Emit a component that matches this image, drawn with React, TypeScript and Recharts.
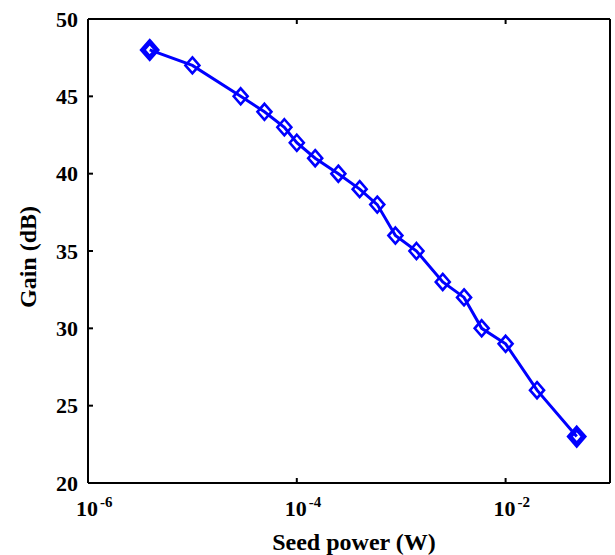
import { LineChart, Line, XAxis, YAxis, Label } from "recharts";

// values
const seedPower = [
  3.9e-6, 1e-5, 2.9e-5, 4.9e-5, 7.6e-5, 1e-4, 1.5e-4, 2.5e-4, 4e-4,
  5.9e-4, 8.8e-4, 1.4e-3, 2.5e-3, 4e-3, 5.9e-3, 1e-2, 2e-2, 4.8e-2,
];
const gainDb = [48, 47, 45, 44, 43, 42, 41, 40, 39, 38, 36, 35, 33, 32, 30, 29, 26, 23];
const powerTicks = [1e-6, 1e-4, 1e-2];
const gainTicks = [20, 25, 30, 35, 40, 45, 50];

const data = seedPower.map((p, i) => ({ power: p, gain: gainDb[i] }));

const FONT = "'Liberation Serif', 'Times New Roman', serif";
const BLUE = "#0000ff";
const axisLine = { stroke: "#000", strokeWidth: 2 };

const Diamond = (props: any) => {
  const { cx, cy, index } = props;
  if (cx == null || cy == null) return null;
  const end = index === 0 || index === data.length - 1;
  const rx = 7;
  const ry = 8;
  return (
    <path
      d={`M${cx},${cy - ry}L${cx + rx},${cy}L${cx},${cy + ry}L${cx - rx},${cy}Z`}
      fill="none"
      stroke={BLUE}
      strokeWidth={end ? 5 : 2.6}
    />
  );
};

const PowerTick = (props: any) => {
  const { x, y, payload } = props;
  const exp = Math.round(Math.log10(payload.value));
  return (
    <g>
      <line x1={x} y1={y} x2={x} y2={y - 5} stroke="#000" strokeWidth={2} />
      <text x={x - 1} y={y + 33} textAnchor="middle" fontFamily={FONT} fontWeight="bold" fontSize={22} fill="#000">
        10
      </text>
      <text x={x + 12} y={y + 24} textAnchor="start" fontFamily={FONT} fontWeight="bold" fontSize={15} fill="#000">
        {exp}
      </text>
    </g>
  );
};

const TopTick = (props: any) => {
  const { x, y } = props;
  return <line x1={x} y1={y} x2={x} y2={y + 5} stroke="#000" strokeWidth={2} />;
};

const GainTick = (props: any) => {
  const { x, y, payload } = props;
  return (
    <g>
      <line x1={x} y1={y} x2={x + 5} y2={y} stroke="#000" strokeWidth={2} />
      <text x={x - 10} y={y + 7.5} textAnchor="end" fontFamily={FONT} fontWeight="bold" fontSize={22} fill="#000">
        {payload.value}
      </text>
    </g>
  );
};

const RightTick = (props: any) => {
  const { x, y } = props;
  return <line x1={x} y1={y} x2={x - 5} y2={y} stroke="#000" strokeWidth={2} />;
};

export default function App() {
  return (
    <div style={{ position: "absolute", left: 0, top: 0, width: 615, height: 555, background: "#fff" }}>
      <LineChart width={615} height={555} data={data} margin={{ top: 0, right: 0, bottom: 0, left: 0 }}>
        <XAxis
          dataKey="power"
          type="number"
          scale="log"
          domain={[1e-6, 1e-1]}
          ticks={powerTicks}
          allowDataOverflow
          height={72}
          tickSize={0}
          tickMargin={0}
          tickLine={false}
          axisLine={axisLine}
          tick={<PowerTick />}
          interval={0}
        >
          <Label
            content={({ viewBox }: any) => (
              <text
                x={viewBox.x + viewBox.width / 2 + 5}
                y={viewBox.y + 67}
                textAnchor="middle"
                fontFamily={FONT}
                fontWeight="bold"
                fontSize={24}
                fill="#000"
              >
                Seed power (W)
              </text>
            )}
          />
        </XAxis>
        <XAxis
          xAxisId="top"
          orientation="top"
          dataKey="power"
          type="number"
          scale="log"
          domain={[1e-6, 1e-1]}
          ticks={powerTicks}
          allowDataOverflow
          height={19}
          tickSize={0}
          tickMargin={0}
          tickLine={false}
          axisLine={axisLine}
          tick={<TopTick />}
          interval={0}
        />
        <YAxis
          type="number"
          domain={[20, 50]}
          ticks={gainTicks}
          width={88}
          tickSize={0}
          tickMargin={0}
          tickLine={false}
          axisLine={axisLine}
          tick={<GainTick />}
          interval={0}
        >
          <Label
            content={({ viewBox }: any) => (
              <text
                x={36}
                y={viewBox.y + viewBox.height / 2 + 6}
                transform={`rotate(-90, 36, ${viewBox.y + viewBox.height / 2 + 6})`}
                textAnchor="middle"
                fontFamily={FONT}
                fontWeight="bold"
                fontSize={24}
                fill="#000"
              >
                Gain (dB)
              </text>
            )}
          />
        </YAxis>
        <YAxis
          yAxisId="right"
          orientation="right"
          type="number"
          domain={[20, 50]}
          ticks={gainTicks}
          width={5}
          tickSize={0}
          tickMargin={0}
          tickLine={false}
          axisLine={axisLine}
          tick={<RightTick />}
          interval={0}
        />
        <Line
          dataKey="gain"
          stroke={BLUE}
          strokeWidth={3}
          dot={<Diamond />}
          activeDot={false}
          isAnimationActive={false}
        />
      </LineChart>
    </div>
  );
}
